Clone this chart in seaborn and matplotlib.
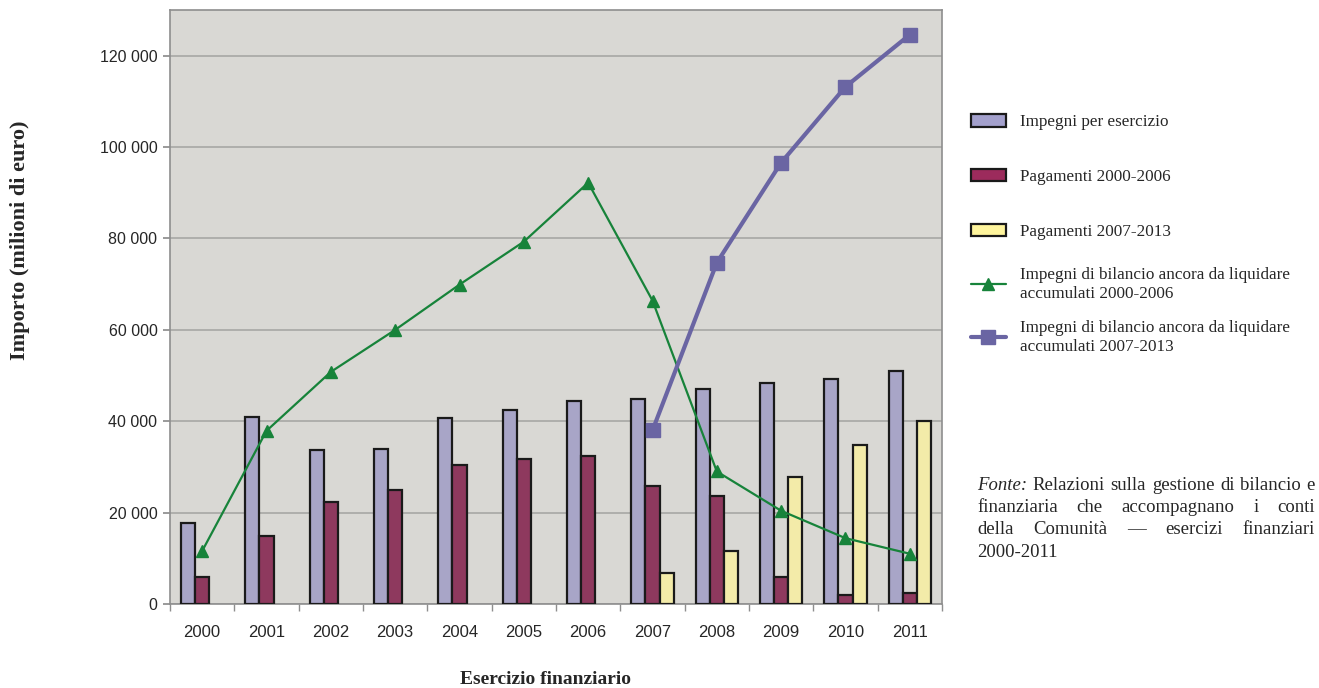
import numpy as np
import pandas as pd
import seaborn as sns
import matplotlib.pyplot as plt
from matplotlib.patches import Patch
from matplotlib.lines import Line2D
from matplotlib.ticker import FuncFormatter, FixedLocator

anni = ["2000", "2001", "2002", "2003", "2004", "2005",
        "2006", "2007", "2008", "2009", "2010", "2011"]
impegni = [17700, 41000, 33800, 34000, 40700, 42400,
           44500, 44900, 47000, 48300, 49300, 50900]
pag_0006 = [5900, 14900, 22300, 24900, 30400, 31800,
            32400, 25800, 23700, 6000, 2000, 2300]
pag_0713 = [np.nan, np.nan, np.nan, np.nan, np.nan, np.nan,
            np.nan, 6700, 11700, 27700, 34900, 40000]
raL_0006 = [11600, 37900, 50800, 60000, 69900, 79300,
            92200, 66400, 29000, 20400, 14400, 11000]
anni_0713 = ["2007", "2008", "2009", "2010", "2011"]
raL_0713 = [38000, 74700, 96600, 113200, 124600]

serie = ["Impegni per esercizio", "Pagamenti 2000-2006", "Pagamenti 2007-2013"]
etichetta_0006 = "Impegni di bilancio ancora da liquidare\naccumulati 2000-2006"
etichetta_0713 = "Impegni di bilancio ancora da liquidare\naccumulati 2007-2013"
fonte = ["Fonte: Relazioni sulla gestione di bilancio e",
         "finanziaria che accompagnano i conti",
         "della Comunità — esercizi finanziari",
         "2000-2011"]

col_bar = ["#A3A0CC", "#9C2B5C", "#FFF59D"]
col_verde = "#17833A"
col_viola = "#6A65A3"

df = pd.DataFrame({
    "anno": anni * 3,
    "valore": impegni + pag_0006 + pag_0713,
    "serie": [serie[0]] * 12 + [serie[1]] * 12 + [serie[2]] * 12,
})

sns.set_theme(style="white")
plt.rcParams["font.family"] = ["Liberation Sans", "DejaVu Sans"]
serif = ["Liberation Serif", "DejaVu Serif"]

W, H = 1319, 688
fig = plt.figure(figsize=(W / 100, H / 100), dpi=100)
ax = fig.add_axes([170 / W, 84 / H, 772 / W, 594 / H])
ax.set_facecolor("#D9D8D4")

sns.barplot(data=df, x="anno", y="valore", hue="serie", hue_order=serie,
            order=anni, palette=col_bar, edgecolor="#1a1a1a", linewidth=1.6,
            width=0.66, gap=0, legend=False, ax=ax, zorder=3)

x_all = [anni.index(a) for a in anni]
x_0713 = [anni.index(a) for a in anni_0713]
ax.plot(x_all, raL_0006, color=col_verde, lw=1.6, marker="^", markersize=8,
        zorder=4)
ax.plot(x_0713, raL_0713, color=col_viola, lw=3, marker="s", markersize=10,
        zorder=5)

ax.set_xlim(-0.5, 11.5)
ax.set_ylim(0, 130000)
ax.set_yticks(range(0, 120001, 20000))
ax.yaxis.set_major_formatter(FuncFormatter(lambda v, p: f"{int(v):,}".replace(",", " ")))
ax.yaxis.grid(True, color="#A3A3A0", lw=1.1, zorder=0)
ax.set_axisbelow(True)
for s in ax.spines.values():
    s.set_color("#8E8E8E")
    s.set_linewidth(1.2)

ax.tick_params(axis="x", which="major", length=0, labelsize=12, pad=15)
ax.xaxis.set_minor_locator(FixedLocator(np.arange(-0.5, 12, 1)))
ax.tick_params(axis="x", which="minor", length=5, color="#8E8E8E", bottom=True)
ax.tick_params(axis="y", length=5, color="#8E8E8E", labelsize=11.5, left=True, pad=4)
ax.set_xlabel("")
ax.set_ylabel("")

fig.text(20 / W, 1 - 240 / H, "Importo (milioni di euro)", rotation=90,
         ha="center", va="center", fontsize=16, fontweight="bold", family=serif)
fig.text(545 / W, 1 - 680 / H, "Esercizio finanziario", ha="center",
         va="center", fontsize=14, fontweight="bold", family=serif)

# legenda in due blocchi (barre / linee) per tenere le spaziature
leg_kw = dict(loc="center left", frameon=False,
              prop={"family": serif, "size": 12.3}, handlelength=2.0,
              handleheight=0.75, handletextpad=0.85)
h_bar = [Patch(facecolor=c, edgecolor="#1a1a1a", linewidth=1.6) for c in col_bar]
fig.legend(h_bar, serie, bbox_to_anchor=(956 / W, 1 - 177 / H),
           labelspacing=2.25, **leg_kw)
h_lin = [Line2D([], [], color=col_verde, lw=1.6, marker="^", markersize=8),
         Line2D([], [], color=col_viola, lw=3, marker="s", markersize=10)]
fig.legend(h_lin, [etichetta_0006, etichetta_0713],
           bbox_to_anchor=(956 / W, 1 - 311 / H), labelspacing=1.1, **leg_kw)

# nota sulla fonte, giustificata tra x0 e x1
renderer = fig.canvas.get_renderer()
x0, x1 = 977, 1315
for i, riga in enumerate(fonte):
    y = 1 - (485 + 22.5 * i) / H
    parole = riga.split(" ")
    testi = []
    for j, p in enumerate(parole):
        stile = "italic" if (i == 0 and j == 0) else "normal"
        testi.append(fig.text(x0 / W, y, p, fontsize=13.5, family=serif,
                              style=stile, va="center"))
    larg = [t.get_window_extent(renderer).width for t in testi]
    if i < len(fonte) - 1 and len(parole) > 1:
        spazio = max(3.0, (x1 - x0 - sum(larg)) / (len(parole) - 1))
    else:
        spazio = 4.5
    x = x0
    for t, w in zip(testi, larg):
        t.set_x(x / W)
        x += w + spazio

fig.savefig("out.png", dpi=100)
